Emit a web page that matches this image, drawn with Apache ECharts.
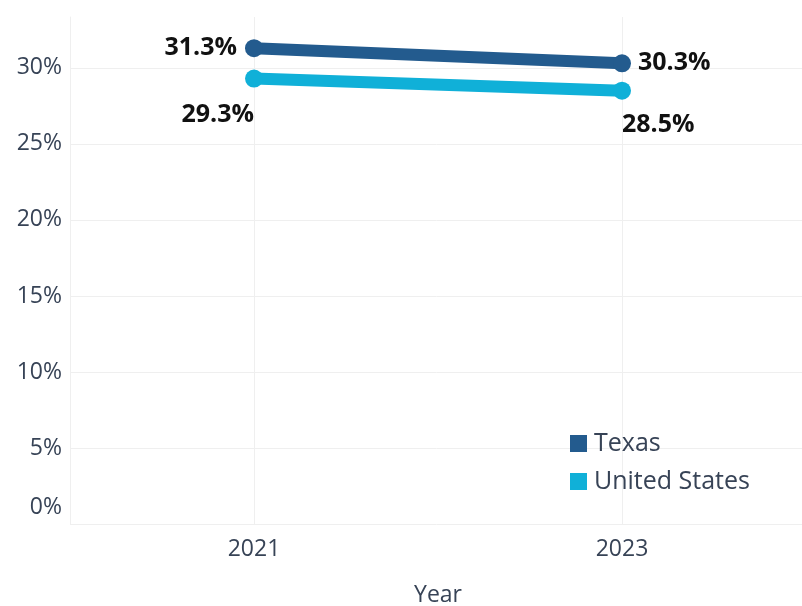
<!DOCTYPE html>
<html>
<head>
<meta charset="utf-8">
<script src="https://cdn.jsdelivr.net/npm/echarts@6/dist/echarts.min.js"></script>
<style>html,body{margin:0;padding:0;background:#fff}#c{width:802px;height:606px}</style>
</head>
<body>
<div id="c"></div>
<script>
const years = [2021, 2023];
const texas = [31.3, 30.3];
const unitedStates = [29.3, 28.5];
const yTicks = [0, 5, 10, 15, 20, 25, 30];
const seriesNames = ['Texas', 'United States'];

const chart = echarts.init(document.getElementById('c'));
const gridColor = '#efefef';
const textColor = '#374356';
const font = 'Open Sans';

chart.setOption({
  animation: false,
  backgroundColor: '#fff',
  grid: { left: 70, right: -4, top: 17, bottom: 82, containLabel: false, outerBoundsMode: 'none' },
  xAxis: {
    type: 'value', min: 2020, max: 2024,
    name: 'Year', nameLocation: 'middle', nameGap: 60,
    nameTextStyle: { fontFamily: font, fontSize: 23, color: textColor },
    axisLine: { show: false },
    axisTick: { show: false, customValues: years },
    axisLabel: { customValues: years, fontFamily: font, fontSize: 23, color: textColor, margin: 14, formatter: v => String(v) },
    splitLine: { show: true, lineStyle: { color: gridColor, width: 1 } }
  },
  yAxis: {
    type: 'value', min: 0, max: 33.35,
    axisLine: { show: true, lineStyle: { color: gridColor } },
    axisTick: { show: false, customValues: yTicks },
    axisLabel: {
      customValues: yTicks, fontFamily: font, fontSize: 23, color: textColor, margin: 8,
      formatter: v => v === 0 ? '{z|0%}' : v + '%',
      rich: { z: { fontFamily: font, fontSize: 23, color: textColor, padding: [0, 0, 34, 0] } }
    },
    splitLine: { show: true, lineStyle: { color: gridColor, width: 1 } }
  },
  legend: {
    orient: 'vertical', left: 565, top: 426,
    itemWidth: 17, itemHeight: 17, itemGap: 13,
    icon: 'rect',
    textStyle: { fontFamily: font, fontSize: 25, color: textColor, padding: [0, 0, 0, 2] },
    data: seriesNames
  },
  series: [
    {
      name: seriesNames[0], type: 'line',
      color: '#235b8e',
      lineStyle: { width: 12, color: '#235b8e' },
      symbol: 'circle', symbolSize: 18,
      itemStyle: { color: '#235b8e' },
      label: {
        show: true, fontFamily: font, fontSize: 25, fontWeight: 'bold', color: '#111',
        formatter: p => p.value[1].toFixed(1) + '%'
      },
      data: [
        { value: [years[0], texas[0]], label: { position: 'left', distance: 8 } },
        { value: [years[1], texas[1]], label: { position: 'right', distance: 7 } }
      ]
    },
    {
      name: seriesNames[1], type: 'line',
      color: '#10b0d8',
      lineStyle: { width: 12, color: '#10b0d8' },
      symbol: 'circle', symbolSize: 18,
      itemStyle: { color: '#10b0d8' },
      label: {
        show: true, fontFamily: font, fontSize: 25, fontWeight: 'bold', color: '#111',
        formatter: p => p.value[1].toFixed(1) + '%'
      },
      data: [
        { value: [years[0], unitedStates[0]], label: { position: 'bottom', align: 'right', distance: 15 } },
        { value: [years[1], unitedStates[1]], label: { position: 'bottom', align: 'left', distance: 13 } }
      ]
    }
  ]
});
</script>
</body>
</html>
